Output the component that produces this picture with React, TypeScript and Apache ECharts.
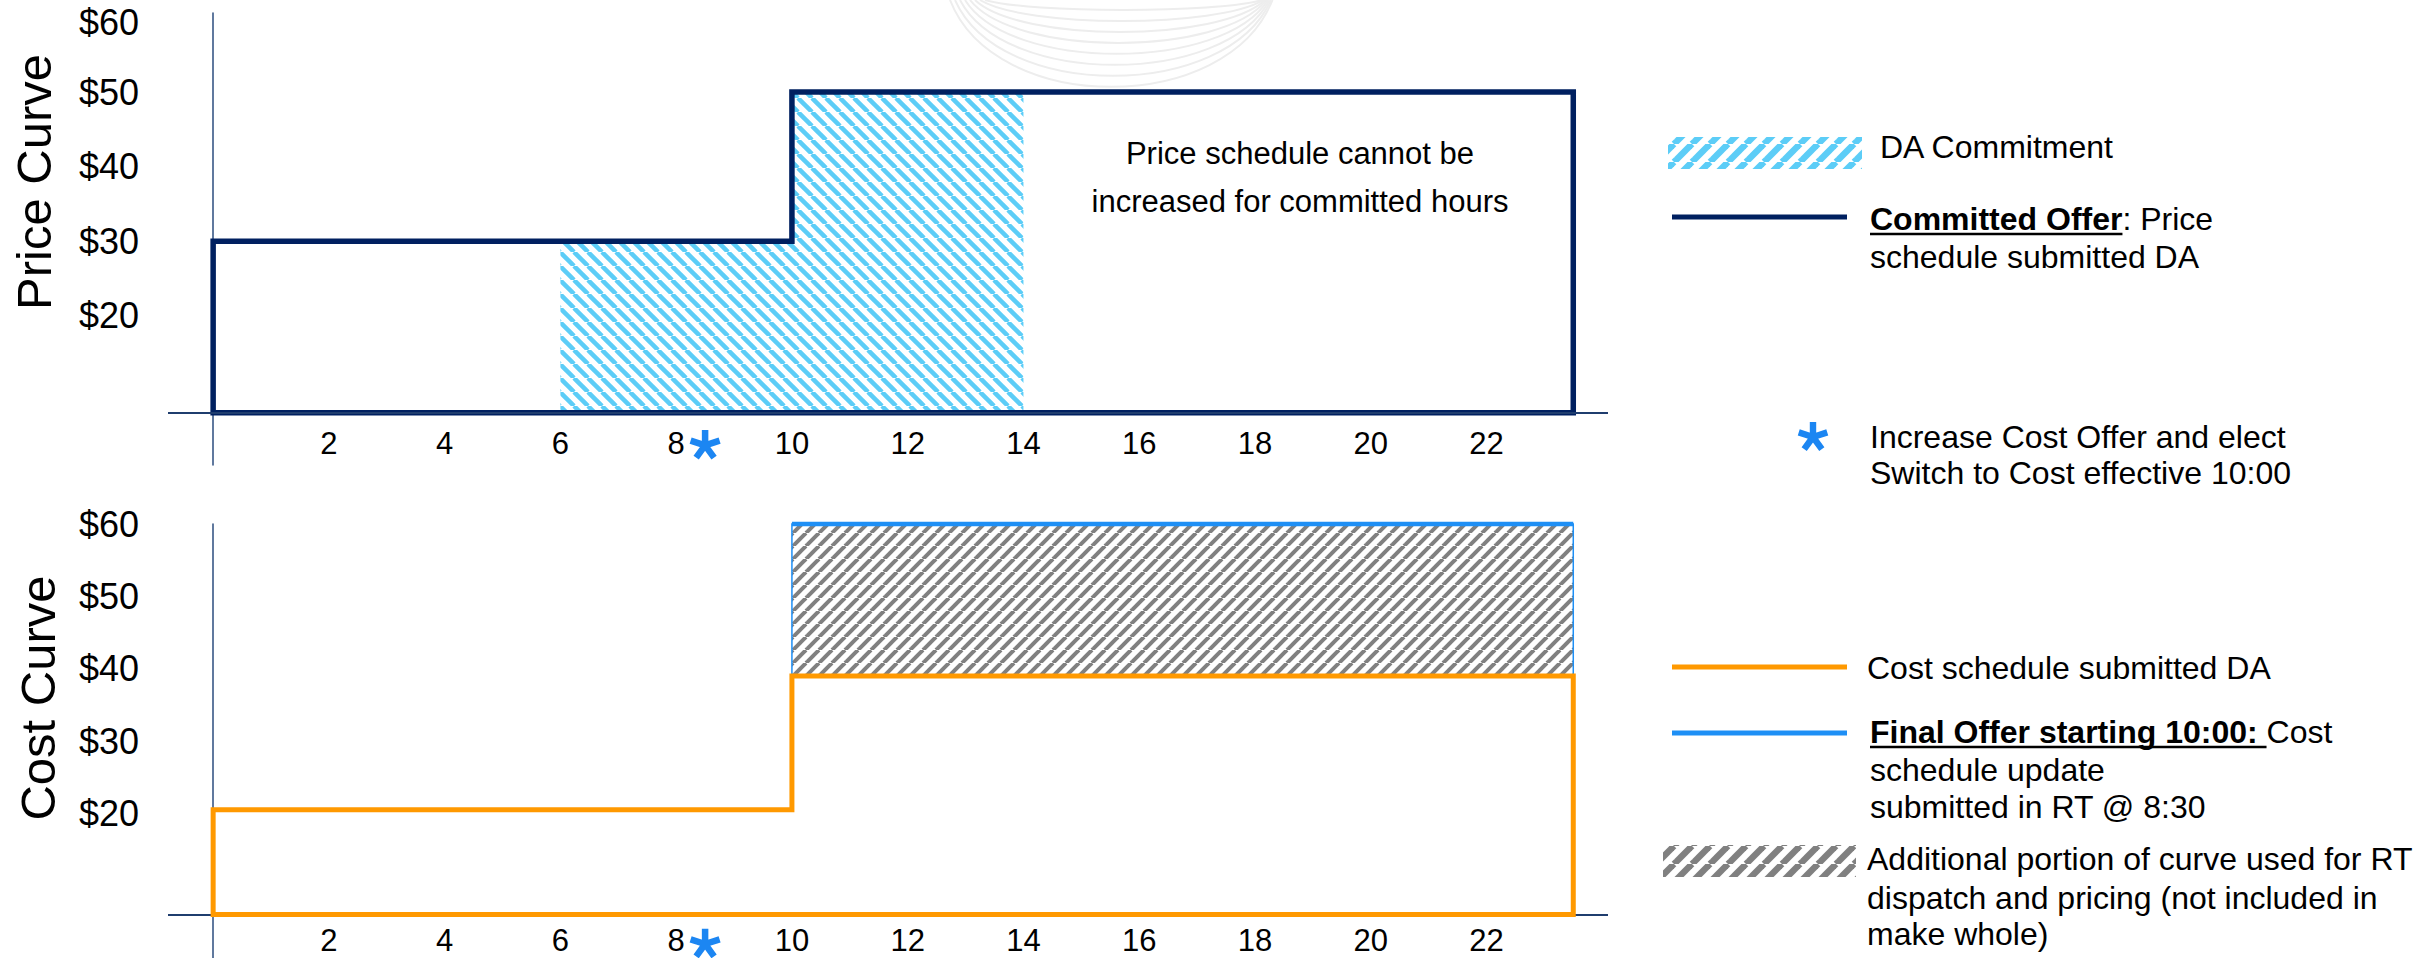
import React, { useEffect, useRef } from 'react';
import * as echarts from 'echarts';

// ---------------- data ----------------
const X_TICKS = [2, 4, 6, 8, 10, 12, 14, 16, 18, 20, 22];
const Y_TICKS = [20, 30, 40, 50, 60];
const SEGMENT_HOURS = [0, 10, 23.5];          // schedule segment boundaries (hour)
const PRICE_OFFER = [30, 50];                  // committed price schedule ($)
const DA_COMMITMENT_HOURS = [6, 14];           // DA committed hours
const COST_DA = [20.5, 39];                    // cost schedule submitted DA ($)
const FINAL_OFFER_START = 10;                  // switch to cost effective hour
const FINAL_OFFER = 60;                        // final cost offer ($)
const COST_UPDATE_HOUR = 8.5;                  // RT cost update submitted @ 8:30
const PRICE_FLOOR = 7;
const COST_FLOOR = 6;

// ---------------- style ----------------
const FONT = "'Liberation Sans', Arial, sans-serif";
const NAVY = '#002060';
const ORANGE = '#FF9900';
const BLUE = '#1E8FF5';
const STAR = '#1C86F2';
const HATCH_BLUE = '#5CCDF7';
const HATCH_GRAY = '#808080';
const AXIS = '#1F3D6E';

function hatch(size: number, lw: number, color: string, dir: string) {
  const c = document.createElement('canvas');
  c.width = size;
  c.height = size;
  const ctx = c.getContext('2d') as CanvasRenderingContext2D;
  ctx.strokeStyle = color;
  ctx.lineWidth = lw;
  for (const k of [-1, 0, 1]) {
    ctx.beginPath();
    if (dir === '/') {
      ctx.moveTo(k * size, size);
      ctx.lineTo(k * size + size, 0);
    } else {
      ctx.moveTo(k * size, 0);
      ctx.lineTo(k * size + size, size);
    }
    ctx.stroke();
  }
  return { image: c.toDataURL(), repeat: 'repeat', imageWidth: size, imageHeight: size } as any;
}

function asteriskPath(R: number, hw: number) {
  let d = '';
  for (let k = 0; k < 5; k++) {
    const a = ((-90 + 72 * k) * Math.PI) / 180;
    const dx = Math.cos(a), dy = Math.sin(a);
    const px = -dy * hw, py = dx * hw;
    const pts = [
      [px, py],
      [dx * R + px, dy * R + py],
      [dx * R - px, dy * R - py],
      [-px, -py],
    ];
    d += 'M' + pts.map((p) => p[0].toFixed(2) + ' ' + p[1].toFixed(2)).join('L') + 'Z';
  }
  return d;
}
const ASTERISK = asteriskPath(15, 3.2);
let registered = false;

function textWidth(text: string, font: string) {
  const ctx = document.createElement('canvas').getContext('2d') as CanvasRenderingContext2D;
  ctx.font = font;
  return ctx.measureText(text).width;
}

function stepOutline(values: number[], floor: number) {
  const pts: number[][] = [[SEGMENT_HOURS[0], floor]];
  values.forEach((v, i) => {
    pts.push([SEGMENT_HOURS[i], v]);
    pts.push([SEGMENT_HOURS[i + 1], v]);
  });
  pts.push([SEGMENT_HOURS[SEGMENT_HOURS.length - 1], floor]);
  pts.push([SEGMENT_HOURS[0], floor]);
  return pts;
}

function stepBetween(values: number[], from: number, to: number) {
  const pts: number[][] = [];
  values.forEach((v, i) => {
    const a = Math.max(from, SEGMENT_HOURS[i]);
    const b = Math.min(to, SEGMENT_HOURS[i + 1]);
    if (b > a) {
      pts.push([a, v]);
      pts.push([b, v]);
    }
  });
  return pts;
}

export default function App() {
  const ref = useRef<HTMLDivElement>(null);

  useEffect(() => {
    if (!ref.current) return;
    if (!registered) {
      echarts.graphic.registerShape('asterisk', echarts.graphic.extendPath(ASTERISK, {}) as any);
      registered = true;
    }
    const chart = echarts.init(ref.current, undefined, { renderer: 'svg' });

    const END = SEGMENT_HOURS[SEGMENT_HOURS.length - 1];
    const daStart = DA_COMMITMENT_HOURS[0], daEnd = DA_COMMITMENT_HOURS[1];
    const daArea = [[daStart, PRICE_FLOOR], ...stepBetween(PRICE_OFFER, daStart, daEnd), [daEnd, PRICE_FLOOR]];
    const finalBand = [
      [FINAL_OFFER_START, FINAL_OFFER],
      [END, FINAL_OFFER],
      ...stepBetween(COST_DA, FINAL_OFFER_START, END).reverse(),
    ];

    const polySeries = (pts: number[][], gi: number, style: any, z: number) => ({
      type: 'custom',
      xAxisIndex: gi,
      yAxisIndex: gi,
      z,
      silent: true,
      data: [pts[0]],
      renderItem: (_p: any, api: any) => ({
        type: 'polygon',
        shape: { points: pts.map((p) => api.coord(p)) },
        style,
      }),
    });

    const axisLineSeries = (gi: number, floor: number) => ({
      type: 'line',
      xAxisIndex: gi,
      yAxisIndex: gi,
      z: 1,
      silent: true,
      data: [],
      symbol: 'none',
      markLine: {
        silent: true,
        symbol: ['none', 'none'],
        label: { show: false },
        lineStyle: { color: AXIS, width: 2, type: 'solid' },
        emphasis: { disabled: true },
        data: [{ yAxis: floor }],
      },
    });

    const starSeries = (gi: number, y: number) => ({
      type: 'scatter',
      xAxisIndex: gi,
      yAxisIndex: gi,
      z: 6,
      silent: true,
      data: [[COST_UPDATE_HOUR, y]],
      symbol: 'path://' + ASTERISK,
      symbolSize: 31,
      symbolKeepAspect: true,
      itemStyle: { color: STAR, opacity: 1 },
    });

    const xAxis = [0, 1].map((i) => ({
      type: 'value',
      gridIndex: i,
      min: -0.78,
      max: 24.1,
      axisLine: { show: false },
      axisTick: { show: false },
      splitLine: { show: false },
      axisLabel: {
        customValues: X_TICKS,
        margin: i === 0 ? -22 : -18,
        verticalAlign: 'middle',
        fontSize: 31,
        lineHeight: 30,
        color: '#000',
        fontFamily: FONT,
      },
    }));
    const yAxis = [60.6, 60].map((mx, i) => ({
      type: 'value',
      gridIndex: i,
      min: 0,
      max: mx,
      axisLine: { show: true, onZero: true, lineStyle: { color: '#2B4C7E', width: 1.5 } },
      axisTick: { show: false },
      splitLine: { show: false },
      axisLabel: {
        customValues: Y_TICKS,
        formatter: (v: number) => (i === 0 && v === 60 ? '{t|$' + v + '}' : '$' + v),
        rich: { t: { fontSize: 36, fontFamily: FONT, color: '#000', padding: [10, 0, 0, 0] } },
        margin: 29,
        fontSize: 36,
        color: '#000',
        fontFamily: FONT,
      },
    }));

    // ---------- legend & annotations ----------
    const LX = 1870;
    const txt = (x: number, y: number, text: string, extra: any = {}) => ({
      type: 'text',
      x,
      y,
      silent: true,
      style: {
        text,
        fill: '#000',
        fontSize: 32,
        fontFamily: FONT,
        align: 'left',
        verticalAlign: 'middle',
        ...extra,
      },
    });
    const hline = (x1: number, x2: number, y: number, color: string, w: number) => ({
      type: 'line',
      silent: true,
      shape: { x1, y1: y, x2, y2: y },
      style: { stroke: color, lineWidth: w },
    });
    const boldFont = "bold 32px 'Liberation Sans'";
    const t1 = 'Committed Offer';
    const w1 = textWidth(t1, boldFont);
    const t2 = 'Final Offer starting 10:00: ';
    const w2 = textWidth(t2, boldFont);

    const watermark: any[] = [];
    for (let i = 0; i < 8; i++) {
      const depth = 10 + 11 * i;
      const L = 985 - 5 * i;
      const R = 1262 + 1.5 * i;
      watermark.push({
        type: 'bezierCurve',
        silent: true,
        z: -10,
        shape: {
          x1: L, y1: 0, x2: R, y2: 0,
          cpx1: L + 45, cpy1: depth * 1.33,
          cpx2: R - 45, cpy2: depth * 1.33,
        },
        style: { stroke: '#EDEDED', lineWidth: 2, fill: null },
      });
    }

    const graphic: any[] = [
      ...watermark,
      {
        type: 'text', x: 34, y: 182, rotation: Math.PI / 2, silent: true,
        style: { text: 'Price Curve', fill: '#000', fontSize: 49, fontFamily: FONT, align: 'center', verticalAlign: 'middle' },
      },
      {
        type: 'text', x: 38, y: 698, rotation: Math.PI / 2, silent: true,
        style: { text: 'Cost Curve', fill: '#000', fontSize: 49, fontFamily: FONT, align: 'center', verticalAlign: 'middle' },
      },
      txt(1300, 153, 'Price schedule cannot be', { align: 'center', fontSize: 31 }),
      txt(1300, 201, 'increased for committed hours', { align: 'center', fontSize: 31 }),
      // DA commitment
      {
        type: 'rect', silent: true,
        shape: { x: 1668, y: 137, width: 194, height: 32 },
        style: { fill: hatch(18, 6.5, HATCH_BLUE, '/') },
      },
      txt(1880, 147, 'DA Commitment'),
      // committed offer
      hline(1672, 1847, 217, NAVY, 5),
      txt(LX, 219, t1, { fontWeight: 'bold' }),
      txt(LX + w1, 219, ': Price'),
      hline(LX, LX + w1, 234, '#000', 2.5),
      txt(LX, 257, 'schedule submitted DA'),
      // asterisk
      { type: 'asterisk', x: 1813, y: 437, silent: true, style: { fill: STAR } },
      txt(LX, 437, 'Increase Cost Offer and elect'),
      txt(LX, 473, 'Switch to Cost effective 10:00'),
      // cost DA
      hline(1672, 1847, 667, ORANGE, 5),
      txt(1867, 668, 'Cost schedule submitted DA'),
      // final offer
      hline(1672, 1847, 733, BLUE, 5),
      txt(LX, 732, t2, { fontWeight: 'bold' }),
      txt(LX + w2, 732, 'Cost'),
      hline(LX, LX + w2, 747, '#000', 2.5),
      txt(LX, 770, 'schedule update'),
      txt(LX, 807, 'submitted in RT @ 8:30'),
      // additional portion
      {
        type: 'rect', silent: true,
        shape: { x: 1663, y: 845, width: 193, height: 32 },
        style: { fill: hatch(18, 6.5, HATCH_GRAY, '/') },
      },
      txt(1867, 859, 'Additional portion of curve used for RT'),
      txt(1867, 898, 'dispatch and pricing (not included in'),
      txt(1867, 934, 'make whole)'),
    ];

    chart.setOption({
      animation: false,
      backgroundColor: '#fff',
      grid: [
        { left: 168, right: 819, top: 13, height: 452, outerBoundsMode: 'none', containLabel: false },
        { left: 168, right: 819, top: 524, height: 434, outerBoundsMode: 'none', containLabel: false },
      ],
      xAxis,
      yAxis,
      series: [
        axisLineSeries(0, PRICE_FLOOR),
        axisLineSeries(1, COST_FLOOR),
        polySeries(daArea, 0, { fill: hatch(14, 4.5, HATCH_BLUE, '\\'), stroke: null }, 2),
        {
          type: 'line', xAxisIndex: 0, yAxisIndex: 0, z: 3, silent: true, clip: false,
          data: stepOutline(PRICE_OFFER, PRICE_FLOOR), symbol: 'none',
          lineStyle: { color: NAVY, width: 5.5, cap: 'square', join: 'miter' },
        },
        polySeries(finalBand, 1, { fill: hatch(13, 4, HATCH_GRAY, '/'), stroke: BLUE, lineWidth: 1.5 }, 2),
        {
          type: 'line', xAxisIndex: 1, yAxisIndex: 1, z: 4, silent: true, clip: false,
          data: [[FINAL_OFFER_START, FINAL_OFFER], [END, FINAL_OFFER]], symbol: 'none',
          lineStyle: { color: BLUE, width: 4.5 },
        },
        {
          type: 'line', xAxisIndex: 1, yAxisIndex: 1, z: 5, silent: true, clip: false,
          data: stepOutline(COST_DA, COST_FLOOR), symbol: 'none',
          lineStyle: { color: ORANGE, width: 5, cap: 'square', join: 'miter' },
        },
        starSeries(0, 2.7),
        starSeries(1, 2.0),
      ],
      graphic,
    } as any);

    return () => chart.dispose();
  }, []);

  return (
    <div
      ref={ref}
      style={{ position: 'fixed', left: 0, top: 0, width: 2427, height: 958, background: '#fff' }}
    />
  );
}
